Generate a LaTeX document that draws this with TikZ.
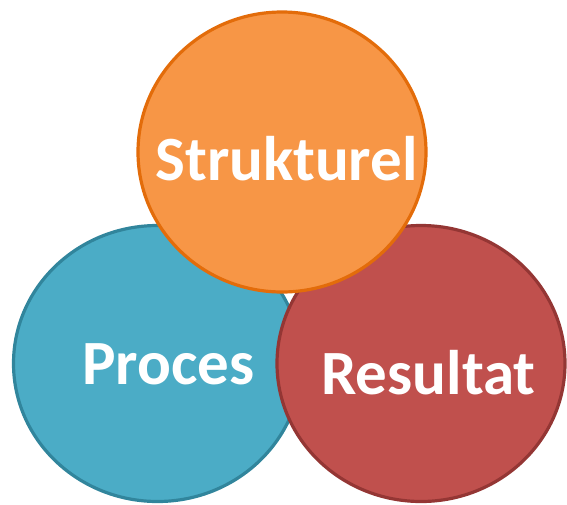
\documentclass[tikz,border=0pt]{standalone}
\usepackage{fontspec}
\setmainfont{Carlito}
\definecolor{orfill}{HTML}{F79646}
\definecolor{ordraw}{HTML}{E36C0A}
\definecolor{blfill}{HTML}{4BACC6}
\definecolor{bldraw}{HTML}{31859C}
\definecolor{rdfill}{HTML}{C0504D}
\definecolor{rddraw}{HTML}{943634}
\begin{document}
\begin{tikzpicture}[x=1pt,y=-1pt,
  blob/.style={line width=3.2pt},
  lbl/.style={text=white,font=\fontsize{63}{63}\selectfont\bfseries,anchor=base,inner sep=0pt}]
\useasboundingbox (0,0) rectangle (567,504);
\filldraw[blob,fill=blfill,draw=bldraw] (157.5,363.5) ellipse [x radius=144, y radius=138];
\filldraw[blob,fill=rdfill,draw=rddraw] (421,363.5) ellipse [x radius=144, y radius=138];
\filldraw[blob,fill=orfill,draw=ordraw] (282,152) ellipse [x radius=144, y radius=140];
\node[lbl] (s) at (286.5,180) {Strukturel};
\node[lbl] (p) at (168.5,384) {Proces};
\node[lbl] (r) at (428.5,394) {Resultat};
\end{tikzpicture}
\end{document}
